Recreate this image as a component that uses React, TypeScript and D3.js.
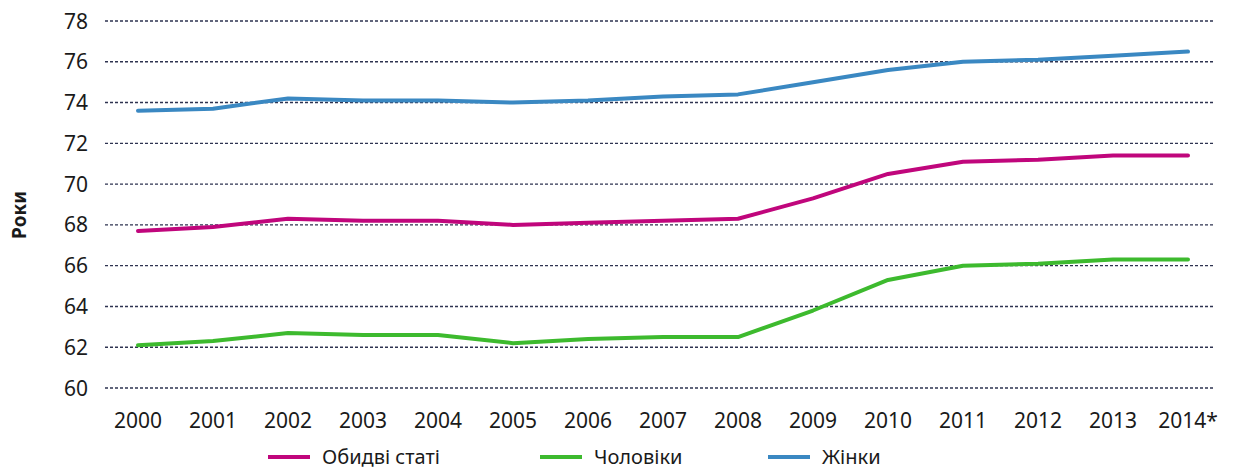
import React from "react";
import * as d3 from "d3";

const years = ["2000","2001","2002","2003","2004","2005","2006","2007","2008","2009","2010","2011","2012","2013","2014*"];
const both = [67.7,67.9,68.3,68.2,68.2,68.0,68.1,68.2,68.3,69.3,70.5,71.1,71.2,71.4,71.4];
const men = [62.1,62.3,62.7,62.6,62.6,62.2,62.4,62.5,62.5,63.8,65.3,66.0,66.1,66.3,66.3];
const women = [73.6,73.7,74.2,74.1,74.1,74.0,74.1,74.3,74.4,75.0,75.6,76.0,76.1,76.3,76.5];
const yTicks = [60,62,64,66,68,70,72,74,76,78];
const seriesNames = ["Обидві статі","Чоловіки","Жінки"];
const seriesColors = ["#c0067c","#3dba2e","#3a88c2"];
const axisTitle = "Роки";

const W = 1233, H = 469;
const FONT = "'Noto Sans', 'Open Sans', sans-serif";

export default function App() {
  const x = d3.scalePoint<string>().domain(years).range([138, 1188]);
  const y = d3.scaleLinear().domain([60, 78]).range([388, 21]);
  const line = d3.line<number>().x((_, i) => x(years[i]) as number).y(d => y(d));
  const series = [both, men, women];
  const legendX = [268, 540, 768];

  return (
    <svg width={W} height={H} style={{ position: "absolute", left: 0, top: 0, background: "#fff" }} fontFamily={FONT}>
      {yTicks.map(t => (
        <g key={t}>
          <line x1={105} x2={1215} y1={y(t)} y2={y(t)} stroke="#2e3350" strokeWidth={1.4} strokeDasharray="3,2" />
          <text x={88} y={y(t)} dy="0.36em" textAnchor="end" fontSize={21} fill="#1a1a1a">{t}</text>
        </g>
      ))}
      {years.map(yr => (
        <text key={yr} x={x(yr)} y={428} textAnchor="middle" fontSize={21} fill="#1a1a1a">{yr}</text>
      ))}
      <text transform={`translate(26,215) rotate(-90)`} textAnchor="middle" fontSize={19} fontWeight="bold" fill="#1a1a1a">{axisTitle}</text>
      {series.map((s, i) => (
        <path key={i} d={line(s) || ""} fill="none" stroke={seriesColors[i]} strokeWidth={4} strokeLinejoin="round" strokeLinecap="round" />
      ))}
      {seriesNames.map((n, i) => (
        <g key={n}>
          <line x1={legendX[i]} x2={legendX[i] + 42} y1={457} y2={457} stroke={seriesColors[i]} strokeWidth={4} />
          <text x={legendX[i] + 54} y={457} dy="0.35em" fontSize={20} fill="#1a1a1a">{n}</text>
        </g>
      ))}
    </svg>
  );
}
